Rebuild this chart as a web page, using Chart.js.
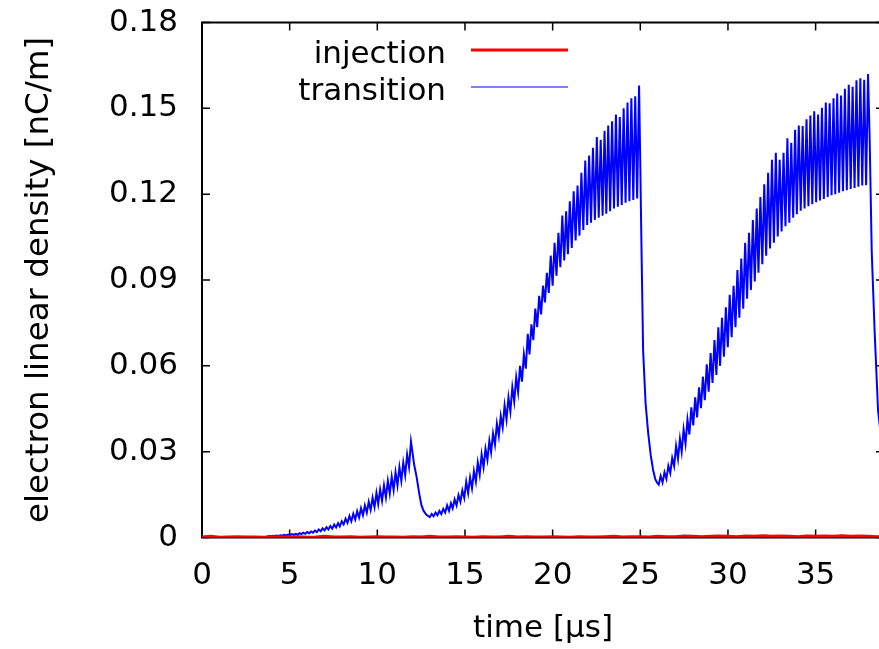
<!DOCTYPE html>
<html>
<head>
<meta charset="utf-8">
<script src="https://cdn.jsdelivr.net/npm/chart.js@4/dist/chart.umd.min.js"></script>
<style>
html,body{margin:0;padding:0;background:#fff;overflow:hidden;}
canvas{display:block;}
</style>
</head>
<body>
<canvas id="c" width="890" height="649"></canvas>
<script>
// ---- data ----
const xTickValues = [0, 5, 10, 15, 20, 25, 30, 35];
const yTickValues = [0, 0.03, 0.06, 0.09, 0.12, 0.15, 0.18];
const seriesNames = ['injection', 'transition'];

// injection: [time µs, nC/m]
const injectionTime = [0,0.5,1,1.5,2,2.5,3,3.5,4,4.5,5,5.5,6,6.5,7,7.5,8,8.5,9,9.5,10,10.5,11,11.5,12,12.5,13,13.5,14,14.5,15,15.5,16,16.5,17,17.5,18,18.5,19,19.5,20,20.5,21,21.5,22,22.5,23,23.5,24,24.5,25,25.5,26,26.5,27,27.5,28,28.5,29,29.5,30,30.5,31,31.5,32,32.5,33,33.5,34,34.5,35,35.5,36,36.5,37,37.5,38,38.5,38.9];
const injectionNcm = [0.0002,0.0004,0.0001,0.0002,0.0003,0.0002,0.0002,0.0001,0.0003,0.0002,
  0.0002,0.0003,0.0001,0.0002,0.0004,0.0002,0.0002,0.0003,0.0001,0.0002,
  0.0003,0.0002,0.0002,0.0001,0.0003,0.0002,0.0004,0.0002,0.0002,0.0003,
  0.0002,0.0001,0.0003,0.0002,0.0002,0.0004,0.0002,0.0003,0.0002,0.0002,
  0.0003,0.0002,0.0001,0.0003,0.0002,0.0002,0.0003,0.0004,0.0002,0.0003,
  0.0003,0.0002,0.0004,0.0003,0.0003,0.0005,0.0004,0.0003,0.0004,0.0005,
  0.0004,0.0003,0.0005,0.0004,0.0006,0.0004,0.0005,0.0004,0.0003,0.0005,
  0.0004,0.0005,0.0004,0.0006,0.0004,0.0005,0.0004,0.0003,0.0004];

// transition, first bunch train and decay: [time µs, nC/m]
const transitionTrain1 = [
  [0,0.0000],[1.0,0.0000],[2.0,0.0001],[2.6,0.0001],[3.2,0.0002],[3.5,0.0002],
  [3.70,0.0003],[3.81,0.0005],[3.92,0.0004],[4.03,0.0006],[4.14,0.0005],[4.25,0.0007],
  [4.36,0.0005],[4.47,0.0008],[4.58,0.0006],[4.69,0.0009],[4.80,0.0007],[4.91,0.0010],
  [5.02,0.0008],[5.13,0.0012],[5.24,0.0009],[5.35,0.0013],[5.46,0.0010],[5.57,0.0015],
  [5.67,0.0012],[5.78,0.0017],[5.89,0.0013],[6.00,0.0019],[6.11,0.0015],[6.22,0.0021],
  [6.33,0.0017],[6.44,0.0024],[6.55,0.0019],[6.66,0.0028],[6.77,0.0022],[6.88,0.0032],
  [6.99,0.0025],[7.10,0.0036],[7.21,0.0028],[7.32,0.0040],[7.43,0.0031],[7.54,0.0045],
  [7.65,0.0035],[7.76,0.0050],[7.86,0.0039],[7.97,0.0057],[8.08,0.0046],[8.19,0.0066],
  [8.30,0.0051],[8.41,0.0075],[8.52,0.0057],[8.63,0.0083],[8.74,0.0063],[8.85,0.0092],
  [8.96,0.0070],[9.07,0.0102],[9.18,0.0078],[9.29,0.0112],[9.40,0.0087],[9.51,0.0125],
  [9.62,0.0096],[9.73,0.0139],[9.84,0.0106],[9.95,0.0156],[10.05,0.0117],[10.16,0.0168],
  [10.27,0.0128],[10.38,0.0182],[10.49,0.0140],[10.60,0.0198],[10.71,0.0153],[10.82,0.0212],
  [10.93,0.0166],[11.04,0.0228],[11.15,0.0182],[11.26,0.0246],[11.37,0.0198],[11.48,0.0262],
  [11.59,0.0218],[11.70,0.0290],[11.81,0.0247],[11.92,0.0335],
  [12.00,0.0300],[12.10,0.0255],[12.24,0.0212],[12.40,0.0150],[12.52,0.0112],[12.65,0.0092],[12.80,0.0079]
];

// transition, second bunch train and decay
const transitionTrain2 = [
  [12.99,0.0071],[13.10,0.0082],[13.21,0.0074],[13.32,0.0087],[13.43,0.0078],[13.54,0.0093],
  [13.65,0.0082],[13.76,0.0100],[13.87,0.0087],[13.98,0.0112],[14.09,0.0093],[14.20,0.0120],
  [14.30,0.0102],[14.41,0.0133],[14.52,0.0112],[14.63,0.0148],[14.74,0.0125],[14.85,0.0165],
  [14.96,0.0138],[15.07,0.0195],[15.18,0.0155],[15.29,0.0210],[15.40,0.0172],[15.51,0.0232],
  [15.62,0.0195],[15.73,0.0262],[15.84,0.0220],[15.95,0.0290],[16.06,0.0245],[16.17,0.0310],
  [16.28,0.0272],[16.39,0.0338],[16.49,0.0298],[16.60,0.0364],[16.71,0.0325],[16.82,0.0398],
  [16.93,0.0355],[17.04,0.0425],[17.15,0.0385],[17.26,0.0462],[17.37,0.0412],[17.48,0.0490],
  [17.59,0.0440],[17.70,0.0525],[17.81,0.0475],[17.92,0.0560],[18.03,0.0508],[18.14,0.0600],
  [18.25,0.0545],[18.36,0.0640],[18.47,0.0590],[18.58,0.0712],[18.68,0.0640],[18.79,0.0745],
  [18.90,0.0690],[19.01,0.0800],[19.12,0.0735],[19.23,0.0845],[19.34,0.0780],[19.45,0.0880],
  [19.56,0.0822],[19.67,0.0925],[19.78,0.0855],[19.89,0.0985],[20.00,0.0880],[20.11,0.1030],
  [20.22,0.0915],[20.33,0.1065],[20.44,0.0945],[20.55,0.1125],[20.66,0.0968],[20.77,0.1140],
  [20.87,0.0990],[20.98,0.1175],[21.09,0.1012],[21.20,0.1210],[21.31,0.1038],[21.42,0.1230],
  [21.53,0.1055],[21.64,0.1275],[21.75,0.1075],[21.86,0.1318],[21.97,0.1092],[22.08,0.1335],
  [22.19,0.1100],[22.30,0.1362],[22.41,0.1110],[22.52,0.1400],[22.63,0.1118],[22.74,0.1390],
  [22.85,0.1125],[22.96,0.1422],[23.06,0.1132],[23.17,0.1440],[23.28,0.1140],[23.39,0.1455],
  [23.50,0.1150],[23.61,0.1478],[23.72,0.1156],[23.83,0.1470],[23.94,0.1162],[24.05,0.1500],
  [24.16,0.1170],[24.27,0.1520],[24.38,0.1175],[24.49,0.1535],[24.60,0.1180],[24.71,0.1542],
  [24.82,0.1185],[24.93,0.1580],
  [25.00,0.1300],[25.07,0.1004],[25.16,0.0655],[25.30,0.0470],[25.45,0.0365],[25.60,0.0285],
  [25.73,0.0236],[25.85,0.0205],[25.95,0.0192]
];

// transition, third bunch train and decay
const transitionTrain3 = [
  [26.05,0.0185],[26.16,0.0215],[26.27,0.0192],[26.38,0.0228],[26.49,0.0205],[26.60,0.0250],
  [26.71,0.0225],[26.82,0.0278],[26.93,0.0250],[27.04,0.0320],[27.15,0.0275],[27.26,0.0345],
  [27.36,0.0300],[27.47,0.0378],[27.58,0.0328],[27.69,0.0412],[27.80,0.0360],[27.91,0.0455],
  [28.02,0.0392],[28.13,0.0490],[28.24,0.0420],[28.35,0.0525],[28.46,0.0452],[28.57,0.0562],
  [28.68,0.0480],[28.79,0.0605],[28.90,0.0510],[29.01,0.0645],[29.12,0.0540],[29.23,0.0690],
  [29.34,0.0568],[29.45,0.0735],[29.55,0.0600],[29.66,0.0768],[29.77,0.0632],[29.88,0.0805],
  [29.99,0.0665],[30.10,0.0848],[30.21,0.0700],[30.32,0.0880],[30.43,0.0735],[30.54,0.0935],
  [30.65,0.0768],[30.76,0.0975],[30.87,0.0800],[30.98,0.1030],[31.09,0.0835],[31.20,0.1065],
  [31.31,0.0865],[31.42,0.1110],[31.53,0.0895],[31.64,0.1150],[31.74,0.0925],[31.85,0.1190],
  [31.96,0.0955],[32.07,0.1235],[32.18,0.0985],[32.29,0.1275],[32.40,0.1010],[32.51,0.1320],
  [32.62,0.1030],[32.73,0.1345],[32.84,0.1052],[32.95,0.1320],[33.06,0.1070],[33.17,0.1345],
  [33.28,0.1088],[33.39,0.1395],[33.50,0.1100],[33.61,0.1380],[33.72,0.1118],[33.83,0.1425],
  [33.93,0.1130],[34.04,0.1440],[34.15,0.1142],[34.26,0.1438],[34.37,0.1150],[34.48,0.1462],
  [34.59,0.1158],[34.70,0.1475],[34.81,0.1165],[34.92,0.1490],[35.03,0.1172],[35.14,0.1478],
  [35.25,0.1178],[35.36,0.1502],[35.47,0.1183],[35.58,0.1520],[35.69,0.1190],[35.80,0.1518],
  [35.91,0.1196],[36.02,0.1535],[36.12,0.1200],[36.23,0.1552],[36.34,0.1205],[36.45,0.1545],
  [36.56,0.1210],[36.67,0.1568],[36.78,0.1214],[36.89,0.1582],[37.00,0.1218],[37.11,0.1575],
  [37.22,0.1222],[37.33,0.1598],[37.44,0.1226],[37.55,0.1605],[37.66,0.1230],[37.77,0.1600],
  [37.88,0.1231],[37.99,0.1620],
  [38.08,0.1400],[38.20,0.1000],[38.37,0.0714],[38.56,0.0445],[38.75,0.0340],[38.90,0.0290]
];

// ---- build datasets ----
const injectionPoints = injectionTime.map((t, i) => ({x: t, y: injectionNcm[i]}));
const transitionPoints = transitionTrain1.concat(transitionTrain2, transitionTrain3)
  .map(p => ({x: p[0], y: p[1]}));

const FONT = {family: '"DejaVu Sans", sans-serif', size: 31};
const YTITLE_FONT = {family: '"DejaVu Sans", sans-serif', size: 32.5};

const framePlugin = {
  id: 'gnuFrame',
  beforeDatasetsDraw(chart) {
    const {ctx, chartArea: a, scales: {x, y}} = chart;
    ctx.save();
    ctx.strokeStyle = '#000';
    ctx.lineWidth = 1.5;
    ctx.beginPath();
    x.ticks.forEach(t => {
      const px = x.getPixelForValue(t.value);
      ctx.moveTo(px, a.bottom); ctx.lineTo(px, a.bottom - 8);
      ctx.moveTo(px, a.top); ctx.lineTo(px, a.top + 8);
    });
    y.ticks.forEach(t => {
      const py = y.getPixelForValue(t.value);
      ctx.moveTo(a.left, py); ctx.lineTo(a.left + 8, py);
      ctx.moveTo(a.right, py); ctx.lineTo(a.right - 8, py);
    });
    ctx.stroke();
    ctx.lineWidth = 2;
    ctx.strokeRect(a.left, a.top, a.right - a.left, a.bottom - a.top);
    ctx.restore();
  }
};

const legendPlugin = {
  id: 'gnuLegend',
  afterDraw(chart) {
    const ctx = chart.ctx;
    const baselines = [63, 100];
    ctx.save();
    ctx.font = '31px "DejaVu Sans", sans-serif';
    ctx.textAlign = 'right';
    ctx.textBaseline = 'alphabetic';
    chart.data.datasets.forEach((ds, i) => {
      const yb = baselines[i];
      ctx.fillStyle = '#000';
      ctx.fillText(ds.label, 446, yb);
      ctx.strokeStyle = ds.borderColor;
      ctx.lineWidth = i === 0 ? 3 : 1.2;
      ctx.beginPath();
      ctx.moveTo(471, yb - 13);
      ctx.lineTo(568, yb - 13);
      ctx.stroke();
    });
    ctx.restore();
  }
};

new Chart(document.getElementById('c'), {
  type: 'line',
  data: {
    datasets: [
      {label: seriesNames[0], data: injectionPoints, borderColor: '#ff0000', backgroundColor: '#ff0000',
       borderWidth: 3, pointRadius: 0, tension: 0, fill: false},
      {label: seriesNames[1], data: transitionPoints, borderColor: '#0000ff', backgroundColor: '#0000ff',
       borderWidth: 2, pointRadius: 0, tension: 0, fill: false}
    ]
  },
  options: {
    responsive: false,
    devicePixelRatio: 1,
    animation: false,
    events: [],
    layout: {padding: {top: 22.5, right: 6, left: 0, bottom: 0}},
    plugins: {legend: {display: false}, tooltip: {enabled: false}},
    scales: {
      x: {
        type: 'linear', min: 0, max: 38.9,
        grid: {display: false, drawTicks: false},
        border: {display: false},
        afterBuildTicks: s => { s.ticks = xTickValues.map(v => ({value: v})); },
        afterFit: s => { s.height = 111.5; s.paddingRight = 0; },
        ticks: {color: '#000', font: FONT, padding: 20, maxRotation: 0, autoSkip: false,
                callback: v => String(v)},
        title: {display: true, text: 'time [µs]', color: '#000', font: FONT, padding: {top: 0, bottom: 1}}
      },
      y: {
        type: 'linear', min: 0, max: 0.18,
        grid: {display: false, drawTicks: false},
        border: {display: false},
        afterBuildTicks: s => { s.ticks = yTickValues.map(v => ({value: v})); },
        afterFit: s => { s.width = 202; s.paddingTop = 0; s.paddingBottom = 0; },
        ticks: {color: '#000', font: FONT, padding: 24, autoSkip: false,
                callback: v => String(Number(v.toFixed(2)))},
        title: {display: true, text: 'electron linear density [nC/m]', color: '#000', font: YTITLE_FONT, padding: {top: 20, bottom: 0}}
      }
    }
  },
  plugins: [framePlugin, legendPlugin]
});
</script>
</body>
</html>
